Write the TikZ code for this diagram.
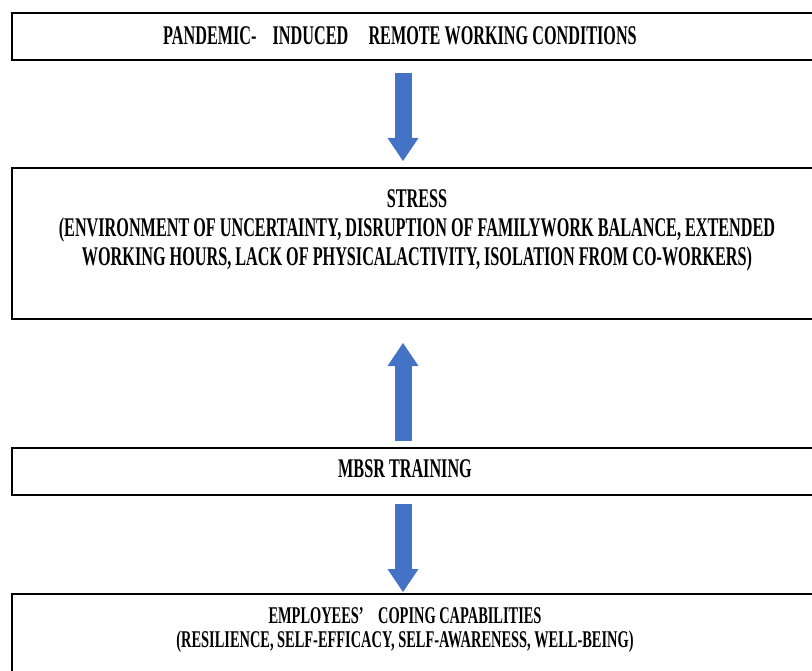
\documentclass[tikz,border=0pt]{standalone}
\usepackage{fontspec}
\setmainfont{Liberation Serif}[FakeStretch=0.6]
\usepackage{xcolor}
\usetikzlibrary{arrows.meta,positioning}
\definecolor{arrowblue}{HTML}{4472C4}

\begin{document}
\begin{tikzpicture}[x=1pt,y=-1pt,
    box/.style={draw, line width=2pt, inner sep=0pt, anchor=north west, minimum width=840pt},
    boxtext/.style={font=\bfseries\fontsize{27}{29}\selectfont, align=center, inner sep=0pt},
    fatarrow/.style={arrowblue, line width=17pt, -{Triangle[width=31pt,length=23pt,line width=0pt]}}]

    \useasboundingbox (0,0) rectangle (812,671);

    % the four boxes, running off the right edge
    \node[box, minimum height=47pt] (cond) at (11,12) {};
    \node[box, minimum height=151pt] (stress) at (11,167) {};
    \node[box, minimum height=47pt] (mbsr) at (11,447) {};
    \node[box, minimum height=130pt] (cope) at (11,593) {};
    \coordinate (mid) at (403,0);

    \node[boxtext] (condtext) at (400,36) {PANDEMIC-\ \ \ \ INDUCED\ \ \ \ \ REMOTE WORKING CONDITIONS};
    \node[boxtext] (stresstext) at (417,230) {STRESS\\(ENVIRONMENT OF UNCERTAINTY, DISRUPTION OF FAMILYWORK BALANCE, EXTENDED\\WORKING HOURS, LACK OF PHYSICALACTIVITY, ISOLATION FROM CO-WORKERS)};
    \node[boxtext] (mbsrtext) at (405,469) {MBSR TRAINING};
    \node[boxtext, font=\bfseries\fontsize{24}{24}\selectfont] (copetext) at (405,630) {EMPLOYEES'\ \ \ \ COPING CAPABILITIES\\(RESILIENCE, SELF-EFFICACY, SELF-AWARENESS, WELL-BEING)};

    % block arrows between the boxes
    \draw[fatarrow, shorten <=12pt, shorten >=6pt] (cond.south -| mid) -- (stress.north -| mid);
    \draw[fatarrow, shorten <=6pt, shorten >=23pt] (mbsr.north -| mid) -- (stress.south -| mid);
    \draw[fatarrow, shorten <=8pt, shorten >=1pt] (mbsr.south -| mid) -- (cope.north -| mid);
\end{tikzpicture}
\end{document}
